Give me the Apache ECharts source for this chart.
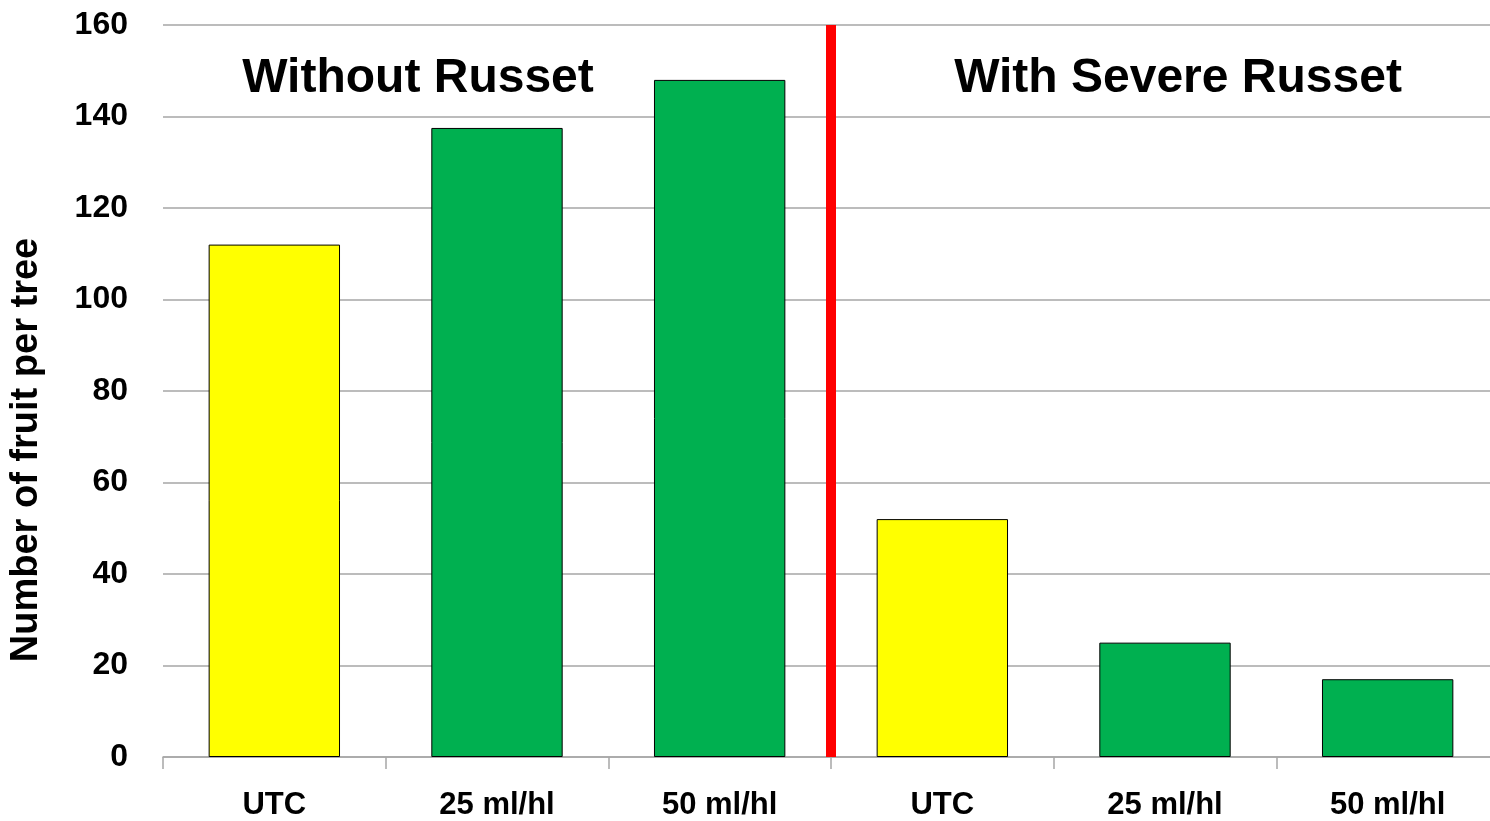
<!DOCTYPE html>
<html>
<head>
<meta charset="utf-8">
<script src="https://cdn.jsdelivr.net/npm/echarts@6/dist/echarts.min.js"></script>
<style>
  html, body { margin: 0; padding: 0; background: #fff; overflow: hidden; }
  /* the source plot runs a few pixels past the right edge of the picture */
  #chart { width: 1500px; height: 821px; }
</style>
</head>
<body>
<div id="chart"></div>
<script>
const categories = ['UTC', '25 ml/hl', '50 ml/hl', 'UTC', '25 ml/hl', '50 ml/hl']
const fruitPerTree = [112, 137.5, 148, 52, 25, 17]
const barColors = ['#FFFF00', '#00B050', '#00B050', '#FFFF00', '#00B050', '#00B050']
const groupTitles = ['Without Russet', 'With Severe Russet']
const dividerAt = 3

const font = '"Liberation Sans", Arial, sans-serif'

const chart = echarts.init(document.getElementById('chart'))

function titleText(text, cx) {
  return {
    type: 'text',
    x: cx,
    y: 79,
    style: {
      text: text,
      textAlign: 'center',
      textVerticalAlign: 'middle',
      fontFamily: font,
      fontWeight: 'bold',
      fontSize: 48,
      fill: '#000',
    },
    z: 10,
  }
}

chart.setOption({
  animation: false,
  grid: { left: 163, top: 25, right: 1, bottom: 63, containLabel: false },
  graphic: [titleText(groupTitles[0], 418), titleText(groupTitles[1], 1178)],
  xAxis: [
    {
      type: 'category',
      data: categories,
      axisLine: { lineStyle: { color: '#A6A6A6', width: 1.5 } },
      axisTick: { show: true, length: 12, alignWithLabel: false, lineStyle: { color: '#A6A6A6', width: 1.5 } },
      axisLabel: {
        color: '#000',
        fontFamily: font,
        fontWeight: 'bold',
        fontSize: 31,
        margin: 33,
        interval: 0,
      },
    },
    {
      type: 'value',
      min: 0,
      max: 6,
      show: false,
    },
  ],
  yAxis: {
    type: 'value',
    min: 0,
    max: 160,
    interval: 20,
    name: 'Number of fruit per tree',
    nameLocation: 'middle',
    nameGap: 117,
    nameTextStyle: {
      color: '#000',
      fontFamily: font,
      fontWeight: 'bold',
      fontSize: 38,
      padding: [0, 118, 0, 0],
    },
    axisLine: { show: false },
    axisTick: { show: false },
    axisLabel: {
      color: '#000',
      fontFamily: font,
      fontWeight: 'bold',
      fontSize: 32,
      margin: 35,
    },
    splitLine: { lineStyle: { color: '#A6A6A6', width: 1.5 } },
  },
  series: [
    {
      type: 'bar',
      barCategoryGap: '41%',
      data: fruitPerTree.map((v, i) => ({ value: v, itemStyle: { color: barColors[i] } })),
      itemStyle: { borderColor: '#000', borderWidth: 1 },
      z: 3,
    },
    {
      type: 'line',
      xAxisIndex: 1,
      data: [],
      markLine: {
        silent: true,
        symbol: 'none',
        label: { show: false },
        lineStyle: { color: '#FF0000', width: 10, type: 'solid' },
        data: [{ xAxis: dividerAt }],
      },
      z: 4,
    },
  ],
})
</script>
</body>
</html>
